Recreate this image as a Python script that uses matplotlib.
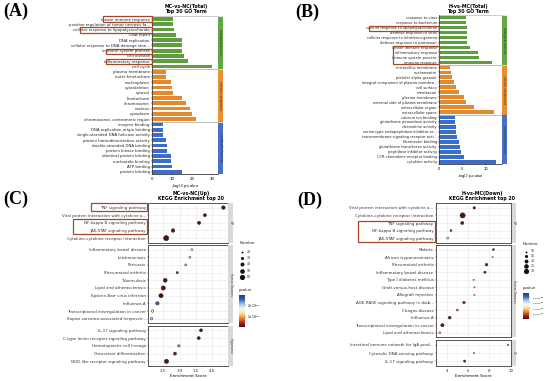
import matplotlib.pyplot as plt
import numpy as np
from matplotlib.patches import Rectangle
from matplotlib.colors import LinearSegmentedColormap, Normalize
from matplotlib.cm import ScalarMappable

W, H = 550, 381

# ---------------- data ----------------
go_groups = ['biological process', 'cellular component', 'molecular function']

go_a_terms = ['innate immune response', 'positive regulation of tumor necrosis fa...',
              'cellular response to lipopolysaccharide', 'DNA repair', 'DNA replication',
              'cellular response to DNA damage stim...', 'immune system process',
              'cell division', 'inflammatory response', 'cell cycle',
              'plasma membrane', 'outer kinetochore', 'nucleoplasm', 'cytoskeleton',
              'cytosol', 'kinetochore', 'chromosome', 'nucleus', 'cytoplasm',
              'chromosome, centromeric region',
              'enzyme binding', 'DNA replication origin binding',
              'single-stranded DNA helicase activity', 'protein homodimerization activity',
              'double-stranded DNA binding', 'protein kinase binding',
              'identical protein binding', 'nucleotide binding', 'ATP binding',
              'protein binding']
go_a_vals = [10.5, 10.5, 11.0, 11.8, 14.8, 14.8, 14.8, 16.0, 17.8, 30.0,
             6.7, 6.7, 9.3, 10.0, 10.5, 14.7, 17.0, 19.0, 20.0, 22.0,
             5.5, 5.5, 5.5, 6.7, 7.2, 7.2, 9.2, 9.5, 10.0, 14.8]

go_b_terms = ['response to virus', 'response to bacterium',
              'cellular response to lipopolysaccharide', 'defense response to virus',
              'cellular response to interferon-gamma', 'defense response to protozoan',
              'innate immune response', 'inflammatory response', 'immune system process',
              'immune response',
              'microvillus membrane', 'euchromatin', 'platelet alpha granule',
              'integral component of plasma membra...', 'cell surface', 'membrane',
              'plasma membrane', 'external side of plasma membrane',
              'extracellular region', 'extracellular space',
              'calcium ion binding', 'glutathione peroxidase activity',
              'chemokine activity', 'serine-type endopeptidase inhibitor ac...',
              'transmembrane signaling receptor acti...', 'fibronectin binding',
              'glutathione transferase activity', 'peptidase inhibitor activity',
              'CCR chemokine receptor binding', 'cytokine activity']
go_b_vals = [5.7, 5.7, 5.9, 5.9, 6.0, 6.0, 6.6, 8.3, 8.6, 11.4,
             2.4, 2.5, 2.8, 3.2, 3.6, 4.3, 5.4, 5.8, 7.5, 11.9,
             3.4, 3.4, 3.6, 3.7, 3.9, 4.2, 4.4, 4.6, 5.3, 12.2]

kegg_c_terms = ['TNF signaling pathway', 'Viral protein interaction with cytokine a...',
                'NF-kappa B signaling pathway', 'JAK-STAT signaling pathway',
                'Cytokine-cytokine receptor interaction',
                'Inflammatory bowel disease', 'Leishmaniasis', 'Pertussis',
                'Rheumatoid arthritis', 'Tuberculosis', 'Lipid and atherosclerosis',
                'Epstein-Barr virus infection', 'Influenza A',
                'Transcriptional misregulation in cancer',
                'Kaposi sarcoma-associated herpesvir...',
                'IL-17 signaling pathway', 'C-type lectin receptor signaling pathway',
                'Hematopoietic cell lineage', 'Osteoclast differentiation',
                'NOD-like receptor signaling pathway']
kegg_c_score = [4.35, 3.78, 3.60, 2.80, 2.59,
                3.38, 3.32, 3.19, 2.93, 2.56, 2.50, 2.43, 2.32, 2.17, 2.14,
                3.66, 3.59, 2.98, 2.86, 2.60]
kegg_c_count = [35, 30, 32, 36, 60,
                20, 21, 21, 22, 40, 45, 45, 33, 25, 25,
                30, 30, 23, 30, 45]
kegg_c_pval = [0.15, 0.2, 0.2, 0.25, 0.15,
               1.5, 1.3, 1.2, 2.7, 0.2, 0.2, 0.18, 2.5, 1.3, 2.0,
               0.2, 0.25, 0.9, 0.3, 0.2]  # x 1e-6
kegg_c_facets = [5, 10, 5]

kegg_d_terms = ['Viral protein interaction with cytokine a...',
                'Cytokine-cytokine receptor interaction', 'TNF signaling pathway',
                'NF-kappa B signaling pathway', 'JAK-STAT signaling pathway',
                'Malaria', 'African trypanosomiasis', 'Rheumatoid arthritis',
                'Inflammatory bowel disease', 'Type I diabetes mellitus',
                'Graft-versus-host disease', 'Allograft rejection',
                'AGE-RAGE signaling pathway in diab...', 'Chagas disease', 'Influenza A',
                'Transcriptional misregulation in cancer', 'Lipid and atherosclerosis',
                'Intestinal immune network for IgA prod...',
                'Cytosolic DNA-sensing pathway', 'IL-17 signaling pathway']
kegg_d_score = [6.58, 5.49, 5.46, 4.40, 4.10,
                8.38, 8.30, 7.73, 7.58, 6.52, 6.60, 6.60, 5.62, 5.00, 4.28, 3.60, 3.35,
                9.75, 6.55, 5.68]
kegg_d_count = [12, 30, 15, 10, 10,
                10, 8, 13, 11, 8, 8, 8, 12, 10, 14, 16, 10,
                8, 8, 11]
kegg_d_pval = [0.1, 0.05, 0.1, 2.1, 1.1,
               0.15, 1.0, 0.1, 0.15, 0.8, 1.0, 1.0, 0.15, 0.6, 0.15, 0.1, 0.9,
               0.2, 0.8, 0.2]  # x 1e-4
kegg_d_facets = [5, 12, 3]

# ---------------- style ----------------
go_bar_colors = ['#5f9e3e', '#e38a2e', '#3b6dcc']
go_strip_colors = ['#63a845', '#e8902f', '#4a6fc6']
box_color = '#a5482a'
cmap = LinearSegmentedColormap.from_list(
    'pv', ['#4a0d0a', '#b3261e', '#ec8a34', '#f7e49a', '#f8f8f4', '#a9c6e6', '#3b63b3', '#24387f'])


def rect(x0, y0, x1, y1):
    return [x0 / W, 1 - y1 / H, (x1 - x0) / W, (y1 - y0) / H]


fig = plt.figure(figsize=(5.5, 3.81), dpi=100)


def go_panel(x0, y0, x1, y1, sx1, terms, vals, xmax, ticks, title, tx, ty, fs):
    ax = fig.add_axes(rect(x0, y0, x1, y1))
    n = len(terms)
    y = np.arange(n)
    ax.barh(y, vals, height=0.72, color=[go_bar_colors[i // 10] for i in range(n)])
    ax.set_ylim(n - 0.5, -0.5)
    ax.set_xlim(0, xmax)
    ax.set_yticks(y)
    ax.set_yticklabels(terms, fontsize=fs, color='#222222')
    ax.set_xticks(ticks)
    ax.tick_params(labelsize=fs, length=1, width=0.3, pad=0.8)
    for s in ['top', 'right']:
        ax.spines[s].set_visible(False)
    for s in ['left', 'bottom']:
        ax.spines[s].set_linewidth(0.4)
    for g in range(3):
        ax.add_patch(Rectangle((0, g * 10 - 0.5), xmax, 10, fill=False,
                               ec='#b8b8b8', lw=0.5, clip_on=False))
    ax.set_xlabel('-log$_{10}$ p-value', fontsize=fs, labelpad=1)
    sax = fig.add_axes(rect(x1, y0, sx1, y1))
    sax.set_ylim(n - 0.5, -0.5)
    sax.set_xlim(0, 1)
    for g in range(3):
        sax.axhspan(g * 10 - 0.5 + 0.15, g * 10 + 9.5 - 0.15, color=go_strip_colors[g])
        sax.text(0.5, g * 10 + 4.5, go_groups[g], rotation=270, fontsize=2.2,
                 ha='center', va='center', color='#333333')
    sax.axis('off')
    fig.text(tx / W, 1 - ty / H, title, ha='center', va='center', fontsize=3.4,
             fontweight='bold', linespacing=1.1)


go_panel(152.3, 16.4, 218, 174.4, 223, go_a_terms, go_a_vals, 33, [0, 10, 20, 30],
         'MC-vs-NC(Total)\nTop 30 GO Term', 186, 9, 2.8)
go_panel(439.3, 15.2, 501.7, 164.2, 506.7, go_b_terms, go_b_vals, 13.5, [0, 5, 10],
         'H-vs-MC(Total)\nTop 30 GO Term', 468, 9, 2.6)


def kegg_panel(x0, x1, sx1, facet_ys, nper, terms, score, count, pval, norm, size_fn,
               xlim, xticks, xlabels, minor, strip_labels, title, tx, ty):
    start = 0
    for k, (n, (ya, yb)) in enumerate(zip(nper, facet_ys)):
        ax = fig.add_axes(rect(x0, ya, x1, yb))
        sl = slice(start, start + n)
        yy = np.arange(n)
        ax.scatter(score[sl], yy, s=[size_fn(c) for c in count[sl]], c=pval[sl],
                   cmap=cmap, norm=norm, edgecolors='#1a1a1a', linewidths=0.3, zorder=3)
        ax.set_ylim(n - 0.4, -0.6)
        ax.set_xlim(*xlim)
        ax.set_yticks(yy)
        ax.set_yticklabels(terms[sl], fontsize=2.9, color='#333333')
        ax.set_xticks(xticks)
        ax.set_xticks(minor, minor=True)
        ax.grid(True, which='major', color='#e6e6e6', lw=0.4)
        ax.grid(True, which='minor', axis='x', color='#f0f0f0', lw=0.25)
        ax.set_axisbelow(True)
        ax.tick_params(length=1, width=0.3, pad=0.8, color='#333333')
        ax.tick_params(which='minor', length=0)
        for s in ax.spines.values():
            s.set_linewidth(0.7)
            s.set_color('#555555')
        if k < len(nper) - 1:
            ax.tick_params(axis='x', labelbottom=False, length=0)
        else:
            ax.set_xticklabels(xlabels, fontsize=2.9, color='#333333')
            ax.set_xlabel('Enrichment Score', fontsize=3.0, labelpad=0.8)
        sax = fig.add_axes(rect(x1, ya, sx1, yb))
        sax.set_facecolor('#d9d9d9')
        sax.set_xticks([])
        sax.set_yticks([])
        for s in sax.spines.values():
            s.set_visible(False)
        sax.text(0.5, 0.5, strip_labels[k], rotation=270, fontsize=2.0, ha='center',
                 va='center', color='#444444', transform=sax.transAxes)
        start += n
    fig.text(tx / W, 1 - ty / H, title, ha='center', va='center', fontsize=3.4,
             fontweight='bold', linespacing=1.1)


norm_c = Normalize(0.13e-6, 2.84e-6)
norm_d = Normalize(0.0, 2.35e-4)


def size_c(n):
    return 2.0 + (n - 20) / 40 * 12


def size_d(n):
    return 2.0 + (n - 10) / 20 * 12


kegg_panel(148.3, 228.3, 233, [(203, 242.7), (245, 323.3), (325.7, 366)], kegg_c_facets,
           kegg_c_terms, kegg_c_score, kegg_c_count, np.array(kegg_c_pval) * 1e-6,
           norm_c, size_c, (2.04, 4.5), [2.5, 3.0, 3.5, 4.0], ['2.5', '3.0', '3.5', '4.0'],
           [2.25, 2.75, 3.25, 3.75, 4.25], ['EIP', 'Human Diseases', 'Organismal'],
           'MC-vs-NC(Up)\nKEGG Enrichment top 20', 191, 196)
kegg_panel(436, 511.5, 516, [(203.3, 242.7), (245, 337.3), (340, 366)], kegg_d_facets,
           kegg_d_terms, kegg_d_score, kegg_d_count, np.array(kegg_d_pval) * 1e-4,
           norm_d, size_d, (3.07, 10.07), [4, 6, 8, 10], ['4', '6', '8', '10'],
           [3, 5, 7, 9], ['EIP', 'Human Diseases', 'OS'],
           'H-vs-MC(Down)\nKEGG Enrichment top 20', 482, 196)

# colorbars
cax_c = fig.add_axes(rect(239, 295, 245, 327))
cb = fig.colorbar(ScalarMappable(norm_c, cmap), cax=cax_c)
cb.set_ticks([1e-6, 2e-6])
cb.set_ticklabels(['1×10$^{-6}$', '2×10$^{-6}$'])
cb.ax.tick_params(labelsize=2.2, length=0.8, width=0.3, pad=0.8)
cb.outline.set_visible(False)

cax_d = fig.add_axes(rect(523.3, 293, 529.3, 319))
cb = fig.colorbar(ScalarMappable(norm_d, cmap), cax=cax_d)
cb.set_ticks([0.5e-4, 1.0e-4, 1.5e-4, 2.0e-4])
cb.set_ticklabels(['5.0×10$^{-5}$', '1.0×10$^{-4}$', '1.5×10$^{-4}$', '2.0×10$^{-4}$'])
cb.ax.tick_params(labelsize=1.6, length=0.8, width=0.3, pad=0.8)
cb.outline.set_visible(False)

# overlay: panel letters, size legends, highlight boxes
ov = fig.add_axes([0, 0, 1, 1], facecolor='none')
ov.set_xlim(0, W)
ov.set_ylim(H, 0)
ov.axis('off')

for lab, lx, ly in [('(A)', 3, 11), ('(B)', 295, 12), ('(C)', 3, 199), ('(D)', 297, 200)]:
    ov.text(lx, ly, lab, fontsize=13, fontweight='bold', family='Liberation Serif',
            ha='left', va='center')

ov.text(240, 243, 'Number', fontsize=2.8, ha='left', va='center', color='#222222')
for i, n in enumerate([20, 30, 40, 50, 60]):
    ov.scatter(242, 251.7 + 6.3 * i, s=size_c(n), color='#111111', lw=0)
    ov.text(246.5, 251.7 + 6.3 * i, str(n), fontsize=2.3, va='center', color='#333333')
ov.text(239, 290, 'pvalue', fontsize=2.8, ha='left', va='center', color='#222222')

ov.text(522.5, 244, 'Number', fontsize=2.8, ha='left', va='center', color='#222222')
for i, n in enumerate([10, 15, 20, 25, 30]):
    ov.scatter(526, 251.5 + 4.8 * i, s=size_d(n), color='#111111', lw=0)
    ov.text(530.5, 251.5 + 4.8 * i, str(n), fontsize=2.3, va='center', color='#333333')
ov.text(523, 288.5, 'pvalue', fontsize=2.8, ha='left', va='center', color='#222222')

highlight = [(103, 16, 152.3, 21.7), (80, 27.3, 152.3, 33.3), (106, 49, 152.3, 54.3),
             (106, 59, 152.3, 64.3), (369.3, 26, 439.3, 31), (393.3, 46, 439.3, 64.3),
             (90.7, 203.3, 147.3, 211), (72.7, 219.3, 147.3, 234.3),
             (357.7, 221, 435, 242.3)]
for hx0, hy0, hx1, hy1 in highlight:
    ov.add_patch(Rectangle((hx0, hy0), hx1 - hx0, hy1 - hy0, fill=False,
                           ec=box_color, lw=0.9))

plt.savefig('out.png', dpi=100)
